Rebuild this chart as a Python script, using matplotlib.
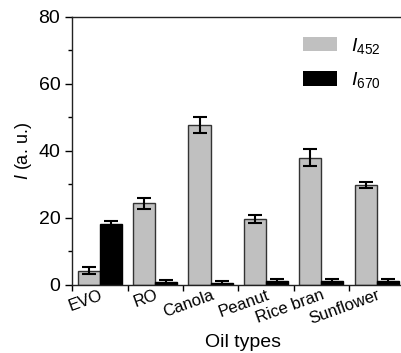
import matplotlib.pyplot as plt
import numpy as np
from matplotlib.ticker import MultipleLocator, FixedLocator
from matplotlib.patches import Patch
from matplotlib.transforms import ScaledTranslation

plt.rcParams['font.family'] = ['Liberation Sans', 'DejaVu Sans']
plt.rcParams['mathtext.fontset'] = 'custom'
plt.rcParams['mathtext.rm'] = 'Liberation Sans'
plt.rcParams['mathtext.it'] = 'Liberation Sans:italic'

oils = ['EVO', 'RO', 'Canola', 'Peanut', 'Rice bran', 'Sunflower']
i452 = [4.2, 24.4, 47.7, 19.6, 38.0, 29.8]
i452_err = [1.1, 1.6, 2.3, 1.2, 2.6, 0.8]
i670 = [18.3, 0.8, 0.5, 1.2, 1.2, 1.1]
i670_err = [0.9, 0.8, 0.8, 0.7, 0.5, 0.8]

fig = plt.figure(figsize=(4.01, 3.53), dpi=100)
ax = fig.add_axes([0.18, 0.193, 0.82, 0.759])

x = np.arange(len(oils))
w = 0.4
err_kw = dict(ecolor='black', capsize=5, elinewidth=1.5, capthick=1.5)
ax.bar(x - w/2, i452, w, yerr=i452_err, color='#c0c0c0', edgecolor='#333333',
       linewidth=1, error_kw=err_kw)
ax.bar(x + w/2, i670, w, yerr=i670_err, color='black', edgecolor='black',
       linewidth=1, error_kw=err_kw)

ax.set_ylim(0, 80)
ax.set_xlim(-0.5, 5.44)
ax.yaxis.set_major_locator(MultipleLocator(20))
ax.yaxis.set_minor_locator(MultipleLocator(10))
ax.xaxis.set_major_locator(FixedLocator(x))
ax.xaxis.set_minor_locator(FixedLocator(np.arange(-0.5, 6, 1)))
ax.set_xticklabels(oils, rotation=20, fontsize=12, ha='right', va='top',
                   rotation_mode='anchor')
offset = ScaledTranslation(6/100, -1/100, fig.dpi_scale_trans)
for lab in ax.get_xticklabels():
    lab.set_transform(lab.get_transform() + offset)
ax.tick_params(axis='x', which='major', length=0, pad=2)
ax.tick_params(axis='x', which='minor', length=4, width=1, direction='out')
ax.tick_params(axis='y', which='major', length=5, width=1, labelsize=14, direction='out')
ax.tick_params(axis='y', which='minor', length=3, width=1, direction='out')
ax.spines['right'].set_visible(False)
for s in ['left', 'top', 'bottom']:
    ax.spines[s].set_linewidth(1)
    ax.spines[s].set_color('#222222')

ax.set_ylabel('$\\mathit{I}$ (a. u.)', fontsize=13, labelpad=3)
ax.set_xlabel('Oil types', fontsize=14)
ax.xaxis.set_label_coords(0.52, -0.185)

handles = [Patch(facecolor='#c0c0c0', edgecolor='none'),
           Patch(facecolor='black', edgecolor='none')]
ax.legend(handles, ['$\\mathit{I}_{452}$', '$\\mathit{I}_{670}$'],
          loc='upper right', frameon=False, fontsize=14, handlelength=1.75,
          handleheight=0.8, handletextpad=0.7, labelspacing=0.75, borderaxespad=0.5,
          bbox_to_anchor=(0.99, 0.995))

fig.savefig('out.png', dpi=100)
